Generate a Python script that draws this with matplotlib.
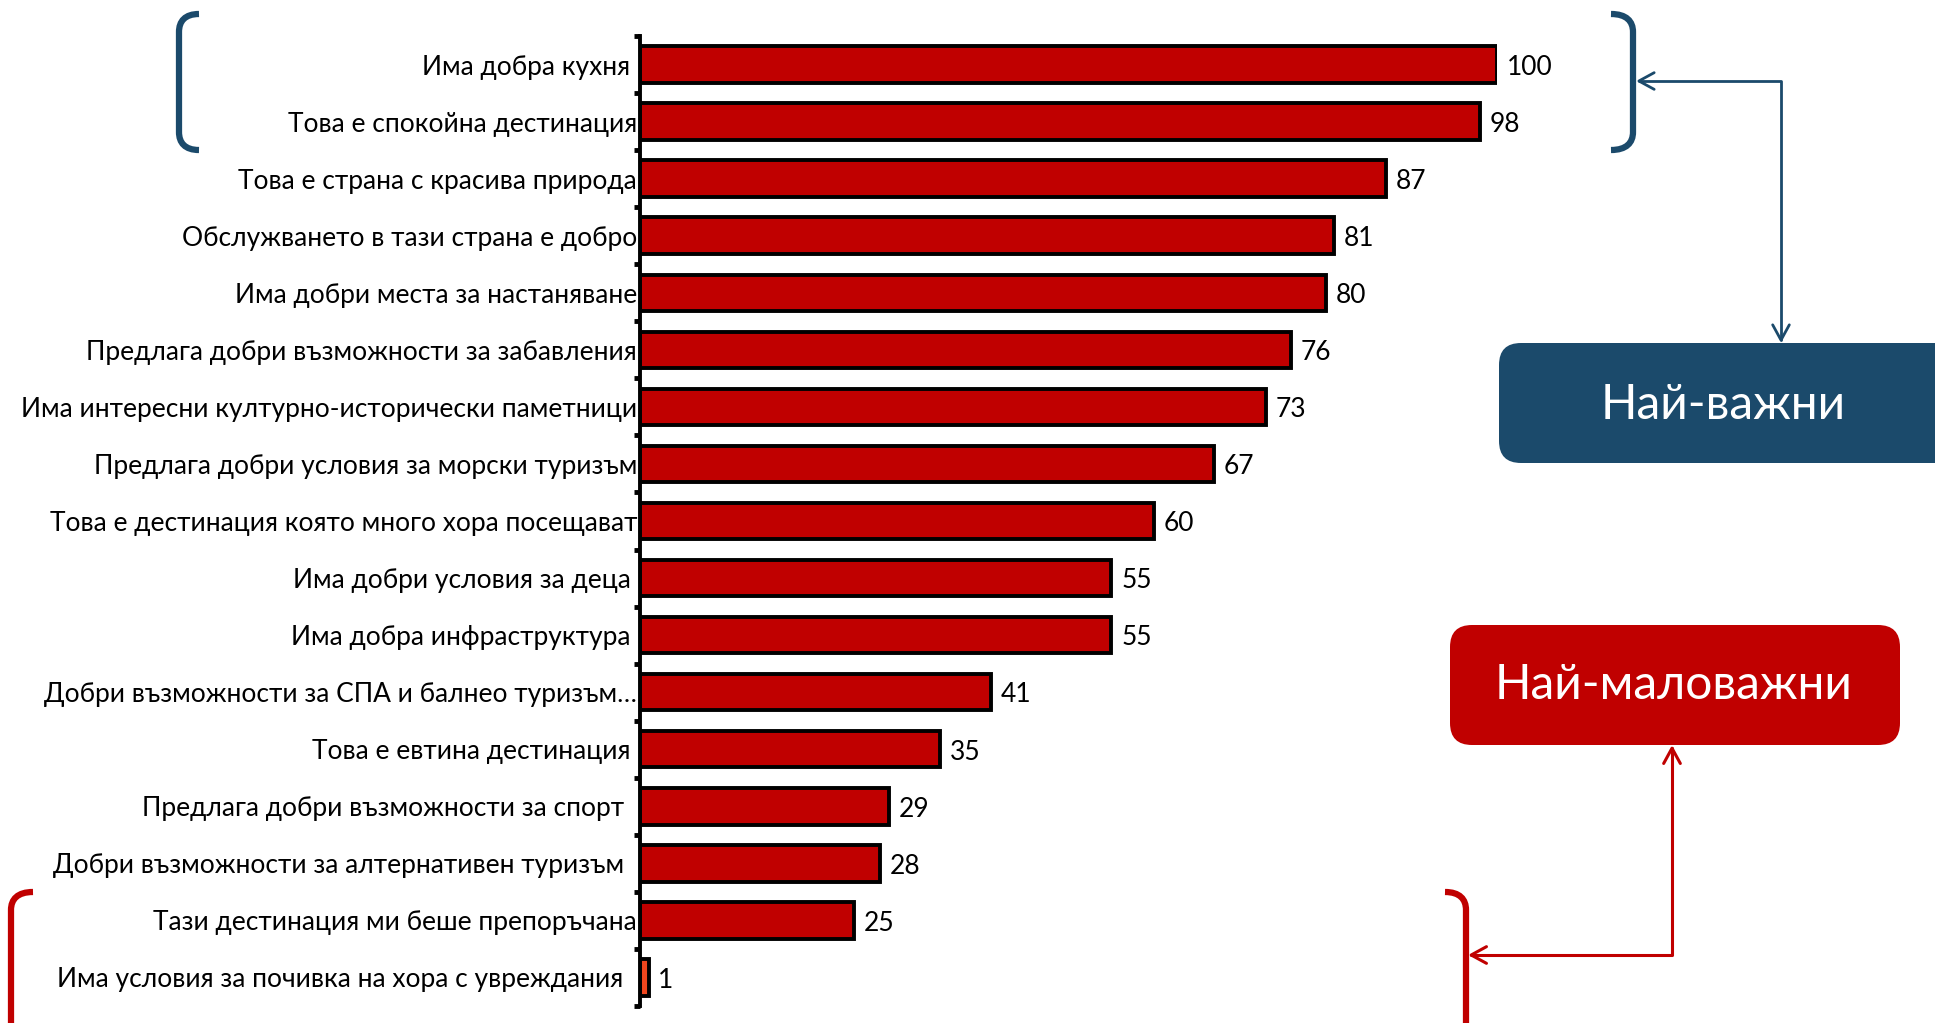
import matplotlib
matplotlib.use("Agg")
import matplotlib.pyplot as plt
from matplotlib.path import Path
from matplotlib.patches import PathPatch, FancyArrowPatch, FancyBboxPatch

plt.rcParams['font.family'] = ['Lato', 'Open Sans', 'DejaVu Sans']

labels = [
    "Има добра кухня ",
    "Това е спокойна дестинация",
    "Това е страна с красива природа",
    "Обслужването в тази страна е добро",
    "Има добри места за настаняване",
    "Предлага добри възможности за забавления",
    "Има интересни културно-исторически паметници",
    "Предлага добри условия за морски туризъм",
    "Това е дестинация която много хора посещават",
    "Има добри условия за деца ",
    "Има добра инфраструктура ",
    "Добри възможности за СПА и балнео туризъм…",
    "Това е евтина дестинация ",
    "Предлага добри възможности за спорт  ",
    "Добри възможности за алтернативен туризъм  ",
    "Тази дестинация ми беше препоръчана",
    "Има условия за почивка на хора с увреждания  ",
]
values = [100, 98, 87, 81, 80, 76, 73, 67, 60, 55, 55, 41, 35, 29, 28, 25, 1]
bar_colors = ['#C00000'] * 16 + ['#F0461E']

BLUE = '#1B4A6B'
RED = '#C00000'
W, H = 1935, 1023

fig = plt.figure(figsize=(W / 100, H / 100), dpi=100)

# bar chart, axis spans the category boundaries
ax = fig.add_axes([640 / W, 1 - 1006 / H, 857 / W, 970 / H])
ypos = list(range(len(values)))
ax.barh(ypos, values, height=0.64, color=bar_colors, edgecolor='black', linewidth=2.8)
ax.set_xlim(0, 100)
ax.set_ylim(len(values) - 0.5, -0.5)
ax.set_yticks(ypos)
ax.set_yticklabels(labels, fontsize=19)
ax.set_yticks([i - 0.5 for i in range(len(values) + 1)], minor=True)
ax.tick_params(axis='y', which='major', length=0, pad=2)
ax.tick_params(axis='y', which='minor', length=4, width=3.5, direction='out')
ax.xaxis.set_visible(False)
for side in ['top', 'right', 'bottom']:
    ax.spines[side].set_visible(False)
ax.spines['left'].set_linewidth(2.8)

for y, v in zip(ypos, values):
    ax.annotate(str(v), (v, y), xytext=(7, -2), textcoords='offset points',
                va='center', ha='left', fontsize=19, annotation_clip=False)

# overlay in pixel units for brackets, arrows and boxes
ov = fig.add_axes([0, 0, 1, 1], zorder=5)
ov.set_xlim(0, W)
ov.set_ylim(H, 0)
ov.axis('off')
ov.patch.set_alpha(0)


def bracket(x_end, x_line, y0, y1, color, r=18):
    d = x_end - x_line
    verts = [(x_end, y0), (x_line + d * 0.3, y0), (x_line, y0 + r * 0.4), (x_line, y0 + r),
             (x_line, y1 - r),
             (x_line, y1 - r * 0.4), (x_line + d * 0.3, y1), (x_end, y1)]
    codes = [Path.MOVETO, Path.CURVE4, Path.CURVE4, Path.CURVE4,
             Path.LINETO,
             Path.CURVE4, Path.CURVE4, Path.CURVE4]
    ov.add_patch(PathPatch(Path(verts, codes), fill=False, edgecolor=color,
                           linewidth=4.5, capstyle='butt'))


bracket(199, 179, 14, 150, BLUE)
bracket(1611, 1633, 14, 150, BLUE)
bracket(33, 11, 892, 1080, RED)
bracket(1445, 1466, 892, 1080, RED)

blue_path = Path([(1636, 81), (1781, 81), (1781, 343)],
                 [Path.MOVETO, Path.LINETO, Path.LINETO])
ov.add_patch(FancyArrowPatch(path=blue_path, arrowstyle='<->,head_length=11,head_width=6',
                             color=BLUE, linewidth=2, mutation_scale=1))
red_path = Path([(1672, 745), (1672, 955), (1468, 955)],
                [Path.MOVETO, Path.LINETO, Path.LINETO])
ov.add_patch(FancyArrowPatch(path=red_path, arrowstyle='<->,head_length=11,head_width=6',
                             color=RED, linewidth=2.2, mutation_scale=1))

ov.add_patch(FancyBboxPatch((1499, 343), 480, 120, boxstyle='round,pad=0,rounding_size=22',
                            facecolor=BLUE, edgecolor='none'))
ov.text(1723, 405, "Най-важни", color='white', fontsize=34.5, ha='center', va='center')
ov.add_patch(FancyBboxPatch((1450, 625), 450, 120, boxstyle='round,pad=0,rounding_size=22',
                            facecolor=RED, edgecolor='none'))
ov.text(1674, 685, "Най-маловажни", color='white', fontsize=34.5, ha='center', va='center')

fig.savefig('out.png', dpi=100)
